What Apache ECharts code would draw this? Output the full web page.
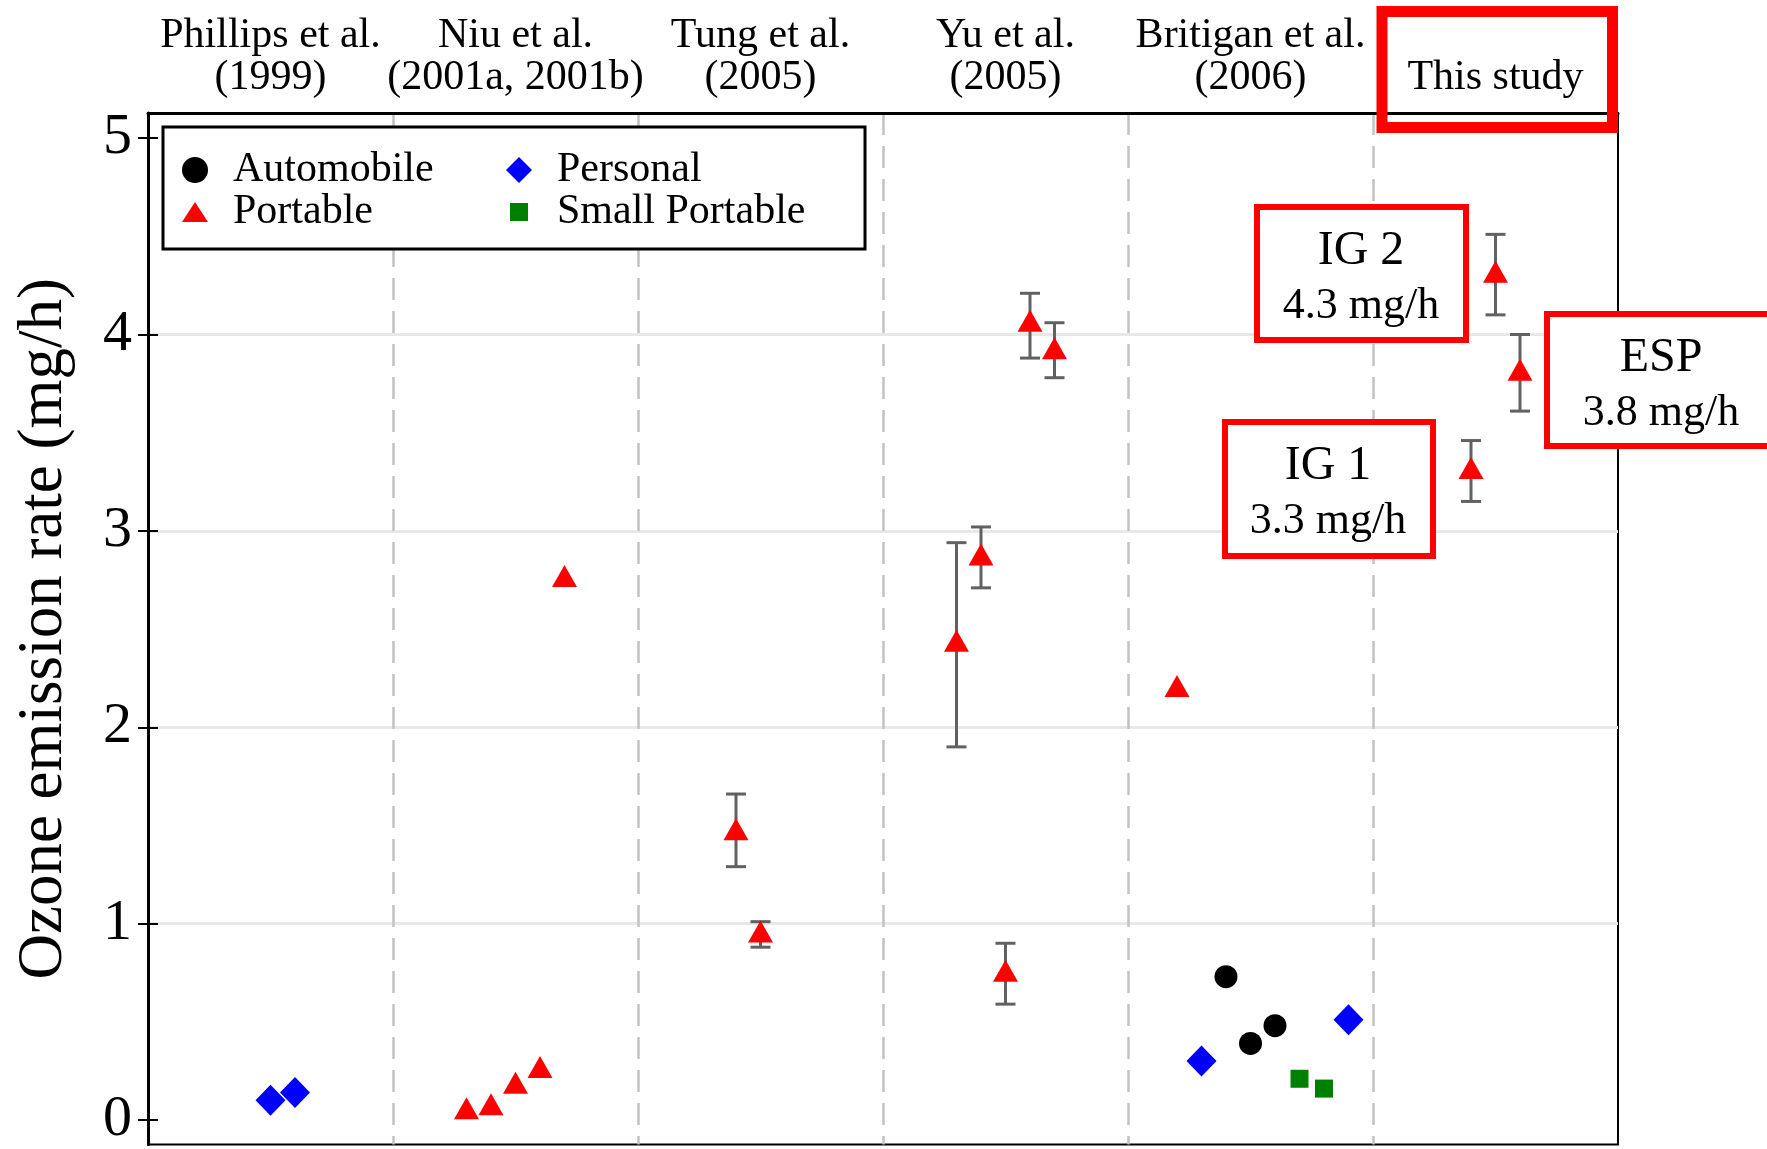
<!DOCTYPE html>
<html>
<head>
<meta charset="utf-8">
<script src="https://cdn.jsdelivr.net/npm/echarts@6/dist/echarts.min.js"></script>
<style>
  html, body { margin: 0; padding: 0; background: #fff; }
  #main { width: 1767px; height: 1149px; }
</style>
</head>
<body>
<div id="main"></div>
<script>
// groups shown along the top of the plot
var studies = ['Phillips et al.\n(1999)', 'Niu et al.\n(2001a, 2001b)', 'Tung et al.\n(2005)',
  'Yu et al.\n(2005)', 'Britigan et al.\n(2006)', '\nThis study'];
var yTicks = [0, 1, 2, 3, 4, 5];

// x = group index + offset inside the group
var autoX = [4.4, 4.5, 4.6];
var autoY = [0.73, 0.39, 0.48];

var personalX = [0.5, 0.6, 4.3, 4.9];
var personalY = [0.10, 0.14, 0.30, 0.51];

var portableX = [1.3, 1.4, 1.5, 1.6, 1.7, 2.4, 2.5, 3.3, 3.4, 3.5, 3.6, 3.7, 4.2, 5.4, 5.5, 5.6];
var portableY = [0.06, 0.08, 0.19, 0.27, 2.77, 1.48, 0.96, 2.44, 2.88, 0.76, 4.07, 3.93, 2.21, 3.32, 4.32, 3.82];
var portableLow = [null, null, null, null, null, 1.29, 0.88, 1.90, 2.71, 0.59, 3.88, 3.78, null, 3.15, 4.10, 3.61];
var portableHigh = [null, null, null, null, null, 1.66, 1.01, 2.94, 3.02, 0.90, 4.21, 4.06, null, 3.46, 4.51, 4.00];

var smallX = [4.7, 4.8];
var smallY = [0.21, 0.16];

// labelled results of this study
var noteNames = ['IG 2', 'ESP', 'IG 1'];
var noteValues = ['4.3 mg/h', '3.8 mg/h', '3.3 mg/h'];

var FONT = 'Liberation Serif';

function pairs(xs, ys) {
  return xs.map(function (x, i) { return [x, ys[i]]; });
}

var errData = [];
portableX.forEach(function (x, i) {
  if (portableLow[i] != null) errData.push([x, portableLow[i], portableHigh[i]]);
});

function renderErrorBar(params, api) {
  var x = api.value(0);
  var lo = api.coord([x, api.value(1)]);
  var hi = api.coord([x, api.value(2)]);
  var cap = 10;
  var st = { stroke: '#616161', lineWidth: 3 };
  return {
    type: 'group',
    children: [
      { type: 'line', shape: { x1: lo[0], y1: lo[1], x2: hi[0], y2: hi[1] }, style: st },
      { type: 'line', shape: { x1: lo[0] - cap, y1: lo[1], x2: lo[0] + cap, y2: lo[1] }, style: st },
      { type: 'line', shape: { x1: hi[0] - cap, y1: hi[1], x2: hi[0] + cap, y2: hi[1] }, style: st }
    ]
  };
}

// red framed note: box first, then its two text lines on top
function noteBox(x, y, w, h, cx, name, value) {
  return [
    { type: 'rect', z: 20, z2: 1, silent: true, shape: { x: x, y: y, width: w, height: h },
      style: { fill: '#fff', stroke: '#ff0000', lineWidth: 6 } },
    { type: 'text', z: 21, z2: 2, silent: true, x: cx, y: y + 44,
      style: { text: name, font: '48px "' + FONT + '"', fill: '#000', align: 'center', verticalAlign: 'middle' } },
    { type: 'text', z: 21, z2: 2, silent: true, x: cx, y: y + 99,
      style: { text: value, font: '44px "' + FONT + '"', fill: '#000', align: 'center', verticalAlign: 'middle' } }
  ];
}

var graphics = [
  { type: 'rect', z: 20, silent: true, shape: { x: 1382, y: 11.5, width: 230.5, height: 116 },
    style: { fill: 'none', stroke: '#ff0000', lineWidth: 11 } }
].concat(
  noteBox(1257, 207, 209, 133, 1361, noteNames[0], noteValues[0]),
  noteBox(1547, 314, 240, 132, 1661, noteNames[1], noteValues[1]),
  noteBox(1225, 422, 208, 134, 1328, noteNames[2], noteValues[2])
);

var Y_MIN = -0.125, Y_MAX = 5.128;

var chart = echarts.init(document.getElementById('main'));
chart.setOption({
  animation: false,
  backgroundColor: '#fff',
  textStyle: { fontFamily: FONT },
  grid: { left: 148, right: 149, top: 113, bottom: 1, show: true, borderColor: '#000', borderWidth: 2 },
  legend: {
    left: 163, top: 127, width: 700,
    padding: [22, 35, 16, 19],
    itemGap: 0, itemWidth: 26, itemHeight: 26,
    backgroundColor: '#fff', borderColor: '#000', borderWidth: 3,
    selectedMode: false,
    textStyle: { fontFamily: FONT, fontSize: 42, color: '#000', lineHeight: 41, width: 273, padding: [0, 0, 0, 20] },
    data: [
      { name: 'Automobile', icon: 'circle' },
      { name: 'Personal', icon: 'diamond' },
      { name: 'Portable', icon: 'path://M0,0M26,26M0,23L13,3L26,23Z' },
      { name: 'Small Portable', icon: 'path://M0,0M26,26M4,4L22,4L22,22L4,22Z' }
    ]
  },
  xAxis: [
    {
      type: 'value', min: 0, max: 6, interval: 1,
      axisLine: { show: false, onZero: false }, axisTick: { show: false }, axisLabel: { show: false },
      splitLine: { show: true, showMinLine: false, showMaxLine: false,
        lineStyle: { color: '#c2c2c2', width: 2.5, type: [22, 11] } }
    },
    {
      type: 'category', position: 'top', data: studies, boundaryGap: true,
      axisLine: { show: true, onZero: false, lineStyle: { color: '#000', width: 3 } },
      axisTick: { show: false }, splitLine: { show: false },
      axisLabel: { interval: 0, margin: 14, fontFamily: FONT, fontSize: 42, lineHeight: 42, color: '#000' }
    }
  ],
  yAxis: [
    {
      type: 'value', min: Y_MIN, max: Y_MAX,
      name: 'Ozone emission rate (mg/h)', nameLocation: 'middle', nameGap: 72,
      nameTextStyle: { fontFamily: FONT, fontSize: 63, color: '#000' },
      axisLine: { show: true, onZero: false, lineStyle: { color: '#000', width: 3 } },
      axisTick: { show: true, length: 10, customValues: yTicks, lineStyle: { color: '#000', width: 2 } },
      axisLabel: { margin: 16, customValues: yTicks, fontFamily: FONT, fontSize: 58, color: '#000' },
      splitLine: { show: true, showMinLine: false, showMaxLine: false, lineStyle: { color: '#e8e8e8', width: 3 } }
    },
    {
      // second copy only for the inner half of the crossing ticks
      type: 'value', min: Y_MIN, max: Y_MAX, position: 'left',
      axisLine: { show: false, onZero: false }, axisLabel: { show: false }, splitLine: { show: false },
      axisTick: { show: true, inside: true, length: 10, customValues: yTicks, lineStyle: { color: '#000', width: 2 } }
    }
  ],
  series: [
    { name: 'errors', type: 'custom', renderItem: renderErrorBar, data: errData,
      encode: { x: 0, y: [1, 2] }, z: 2, silent: true },
    { name: 'Automobile', type: 'scatter', data: pairs(autoX, autoY), symbol: 'circle', symbolSize: 23,
      itemStyle: { color: '#000', opacity: 1 }, z: 3 },
    { name: 'Personal', type: 'scatter', data: pairs(personalX, personalY), symbol: 'diamond', symbolSize: [30, 31],
      itemStyle: { color: '#0000ff', opacity: 1 }, z: 3 },
    { name: 'Portable', type: 'scatter', data: pairs(portableX, portableY), symbol: 'triangle', symbolSize: [25, 22],
      itemStyle: { color: '#ff0000', opacity: 1 }, z: 3 },
    { name: 'Small Portable', type: 'scatter', data: pairs(smallX, smallY), symbol: 'rect', symbolSize: 18,
      itemStyle: { color: '#008000', opacity: 1 }, z: 3 }
  ],
  graphic: graphics
});
</script>
</body>
</html>
